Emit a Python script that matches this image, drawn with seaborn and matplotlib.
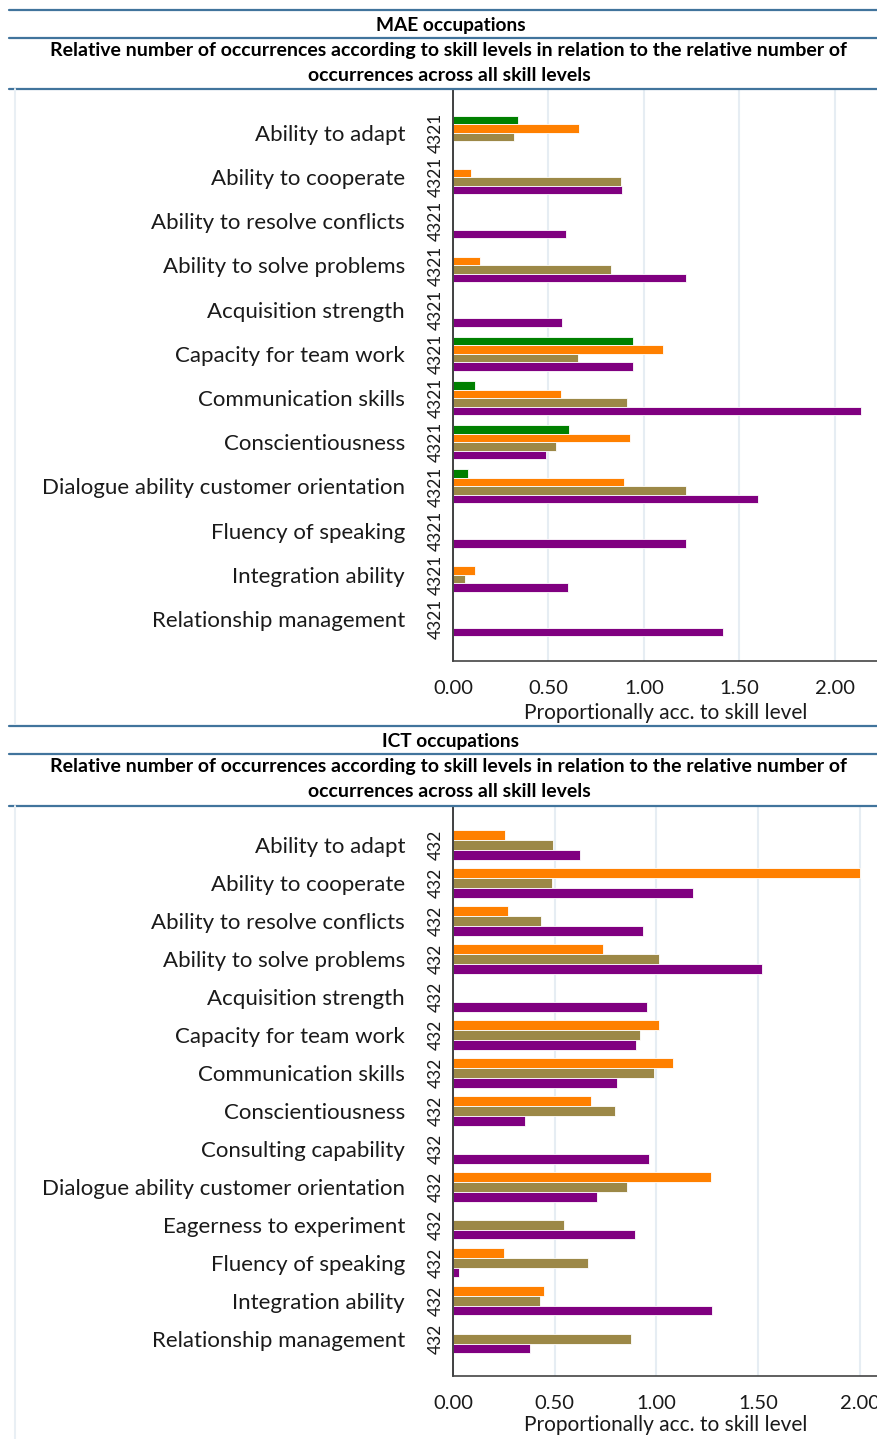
import numpy as np
import pandas as pd
import seaborn as sns
import matplotlib.pyplot as plt
from matplotlib.lines import Line2D

sns.set_theme(style="white")
plt.rcParams["font.family"] = ["Lato", "DejaVu Sans"]

# ---- MAE occupations ----
mae_skills = [
    "Ability to adapt", "Ability to cooperate", "Ability to resolve conflicts",
    "Ability to solve problems", "Acquisition strength", "Capacity for team work",
    "Communication skills", "Conscientiousness",
    "Dialogue ability customer orientation", "Fluency of speaking",
    "Integration ability", "Relationship management",
]
mae_level4 = [0.34, None, None, None, None, 0.945, 0.117, 0.61, 0.079, None, None, None]
mae_level3 = [0.66, 0.093, None, 0.14, None, 1.10, 0.566, 0.926, 0.898, None, 0.115, None]
mae_level2 = [0.32, 0.88, None, 0.83, None, 0.655, 0.91, 0.54, 1.223, None, 0.063, None]
mae_level1 = [None, 0.886, 0.59, 1.22, 0.57, 0.943, 2.14, 0.486, 1.60, 1.223, 0.60, 1.415]

# ---- ICT occupations ----
ict_skills = [
    "Ability to adapt", "Ability to cooperate", "Ability to resolve conflicts",
    "Ability to solve problems", "Acquisition strength", "Capacity for team work",
    "Communication skills", "Conscientiousness", "Consulting capability",
    "Dialogue ability customer orientation", "Eagerness to experiment",
    "Fluency of speaking", "Integration ability", "Relationship management",
]
ict_level3 = [0.254, 2.00, 0.269, 0.74, None, 1.012, 1.081, 0.677, None, 1.271, None, 0.251, 0.448, None]
ict_level2 = [0.494, 0.486, 0.431, 1.015, None, 0.92, 0.989, 0.795, None, 0.854, 0.548, 0.666, 0.43, 0.874]
ict_level1 = [0.623, 1.182, 0.935, 1.52, 0.956, 0.90, 0.805, 0.356, 0.963, 0.71, 0.894, 0.028, 1.276, 0.377]

x_ticks = [0.0, 0.5, 1.0, 1.5, 2.0]
x_ticklabels = ["0.00", "0.50", "1.00", "1.50", "2.00"]
x_label = "Proportionally acc. to skill level"
subtitle = ("Relative number of occurrences according to skill levels in relation to the relative number of\n"
            "occurrences across all skill levels")

palette = {"4": "#008000", "3": "#FF8000", "2": "#9C8847", "1": "#800080"}
header_blue = "#41749c"
frame_grey = "#e9eff4"
grid_grey = "#e6edf3"


def long_frame(skills, levels):
    rows = []
    for lvl, vals in levels.items():
        for s, v in zip(skills, vals):
            if v is not None:
                rows.append({"skill": s, "level": lvl, "value": v})
    return pd.DataFrame(rows)


mae_df = long_frame(mae_skills, {"4": mae_level4, "3": mae_level3, "2": mae_level2, "1": mae_level1})
ict_df = long_frame(ict_skills, {"3": ict_level3, "2": ict_level2, "1": ict_level1})

W, H = 878, 1439
fig = plt.figure(figsize=(W / 100, H / 100), dpi=100)


def fy(py):
    return 1 - py / H


def fx(px):
    return px / W


def panel(df, skills, hue_order, top_px, bottom_px, xmax, level_text, ylim, labelpad):
    ax = fig.add_axes([fx(453), fy(bottom_px), 1 - fx(453), fy(top_px) - fy(bottom_px)])
    sns.barplot(data=df, y="skill", x="value", hue="level", order=skills,
                hue_order=hue_order, palette=palette, orient="h", width=0.77,
                errorbar=None, legend=False, ax=ax, linewidth=0.6,
                edgecolor="white", saturation=1)
    ax.set_xlim(0, xmax)
    ax.set_ylim(*ylim)
    ax.set_xticks(x_ticks)
    ax.set_xticklabels(x_ticklabels)
    ax.set_ylabel("")
    ax.set_xlabel(x_label, fontsize=15, labelpad=labelpad, color="#1a1a1a")
    ax.xaxis.grid(True, color=grid_grey, lw=1.5)
    ax.set_axisbelow(True)
    for side in ("top", "right"):
        ax.spines[side].set_visible(False)
    ax.spines["left"].set_color("#222222")
    ax.spines["bottom"].set_color("#444444")
    ax.spines["left"].set_linewidth(1.2)
    ax.spines["bottom"].set_linewidth(1.2)
    ax.tick_params(axis="x", length=6, width=1.1, color="#444444", labelsize=14.5,
                   labelcolor="#1a1a1a", pad=8)
    ax.tick_params(axis="y", length=0, pad=34.5, labelsize=16, labelcolor="#1a1a1a")
    for i in range(len(skills)):
        ax.annotate(level_text, xy=(0, i), xycoords=("axes fraction", "data"),
                    xytext=(-17, 0), textcoords="offset pixels", rotation=90,
                    ha="center", va="center", fontsize=12.5, color="#1a1a1a")
    return ax


panel(mae_df, mae_skills, ["4", "3", "2", "1"], 90, 661, 2.227, "4321", (11.95, -0.97), 4)
panel(ict_df, ict_skills, ["3", "2", "1"], 806, 1376, 2.09, "432", (13.98, -1.03), 2)

# Header rules and titles
for py in (10, 38, 89, 726, 754, 806):
    fig.add_artist(Line2D([fx(9), 1], [fy(py), fy(py)], color=header_blue, lw=1.6))
for y0, y1 in ((89, 724), (806, 1439)):
    fig.add_artist(Line2D([fx(15), fx(15)], [fy(y0), fy(y1)], color=frame_grey, lw=1.5))

for ty, title in ((25, "MAE occupations"), (741, "ICT occupations")):
    fig.text(fx(451), fy(ty), title, ha="center", va="center", fontsize=13.8,
             fontweight="bold", color="black")
    fig.text(fx(449), fy(ty + 38), subtitle, ha="center", va="center", fontsize=14,
             fontweight="bold", color="black", linespacing=1.6)

fig.savefig("out.png", dpi=100)
